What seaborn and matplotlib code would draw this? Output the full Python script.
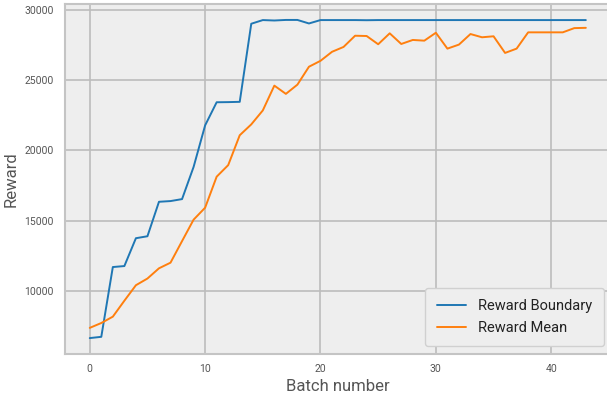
import matplotlib
matplotlib.use("Agg")
import matplotlib.pyplot as plt
import seaborn as sns
import pandas as pd
import numpy as np

batches = list(range(44))
reward_boundary = [6690, 6780, 11730, 11800, 13775, 13915, 16360, 16410, 16550, 18830,
                   21780, 23420, 23430, 23450, 28990, 29250, 29220, 29260, 29260, 29010,
                   29250, 29250, 29250, 29250, 29240, 29250, 29250, 29250, 29250, 29250,
                   29250, 29250, 29250, 29250, 29250, 29250, 29250, 29250, 29250, 29250,
                   29250, 29250, 29250, 29250]
reward_mean = [7415, 7760, 8210, 9340, 10440, 10915, 11640, 12040, 13570, 15090,
               15940, 18140, 18960, 21080, 21850, 22840, 24600, 24015, 24670, 25940,
               26360, 27000, 27345, 28140, 28120, 27535, 28310, 27555, 27840, 27790,
               28350, 27225, 27510, 28260, 28030, 28100, 26920, 27225, 28380, 28380,
               28380, 28380, 28680, 28700]
series_names = ["Reward Boundary", "Reward Mean"]

df = pd.concat([
    pd.DataFrame({"Batch number": batches, "Reward": reward_boundary, "series": series_names[0]}),
    pd.DataFrame({"Batch number": batches, "Reward": reward_mean, "series": series_names[1]}),
])

sns.set_style("whitegrid")
plt.rcParams['font.family'] = ['Roboto', 'DejaVu Sans']

fig = plt.figure(figsize=(6.07, 4.03), dpi=100)
ax = fig.add_axes([0.107, 0.1216, 0.899, 0.8684])
sns.lineplot(data=df, x="Batch number", y="Reward", hue="series",
             palette=["#1f77b4", "#ff7f0e"], linewidth=1.4, ax=ax)

ax.set_facecolor("#eeeeee")
ax.grid(True, color="#bcbcbc", linewidth=1.2)
for s in ax.spines.values():
    s.set_color("#c4c4c4")
    s.set_linewidth(1.5)
ax.tick_params(axis="both", length=0, labelsize=7.5, labelcolor="#555555")
ax.tick_params(axis="x", pad=7)
ax.tick_params(axis="y", pad=8)
ax.set_xticks([0, 10, 20, 30, 40])
ax.set_yticks([10000, 15000, 20000, 25000, 30000])
ax.set_xlabel("Batch number", fontsize=12, color="#555555", labelpad=4)
ax.set_ylabel("Reward", fontsize=12, color="#555555", labelpad=4)

leg = ax.legend(loc="lower right", fontsize=10.5, frameon=True, facecolor="#eeeeee",
                edgecolor="#d0d0d0", framealpha=1.0, borderpad=0.8, borderaxespad=0,
                bbox_to_anchor=(0.987, 0.022))
leg.set_title(None)
for t in leg.get_texts():
    t.set_color("#222222")

fig.savefig("out.png", dpi=100)
